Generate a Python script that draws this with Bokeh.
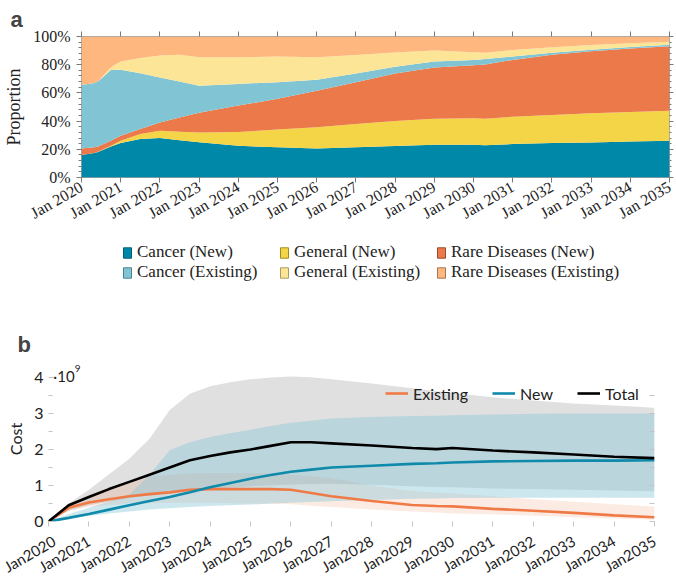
import math
from bokeh.plotting import figure
from bokeh.models import (Range1d, LinearAxis, SingleIntervalTicker, FixedTicker, Legend,
                          LegendItem, Label, PrintfTickFormatter, ColumnDataSource)
from bokeh.embed import file_html
from bokeh.resources import INLINE

# ---------------- panel a : proportions (%) ----------------
years_a = [2020.0, 2020.33, 2020.42, 2020.75, 2021.0, 2021.5, 2022.0, 2022.5, 2023.0, 2024.0,
           2025.0, 2026.0, 2027.0, 2028.0, 2029.0, 2030.0, 2030.3, 2031.0, 2032.0, 2033.0,
           2034.0, 2035.0]
cancer_new = [15.9, 17.3, 18.0, 22.0, 24.4, 27.3, 28.0, 26.5, 25.0, 22.5, 21.4, 20.6, 21.4, 22.4,
              23.2, 23.2, 22.9, 23.7, 24.4, 24.9, 25.6, 26.0]
general_new = [0.0, 0.1, 0.2, 0.6, 1.6, 3.5, 5.2, 6.0, 7.0, 9.7, 12.6, 15.0, 16.6, 17.6, 18.4,
               18.8, 18.7, 19.4, 19.9, 20.6, 20.8, 21.4]
rare_new = [4.7, 4.1, 3.8, 3.4, 3.6, 3.6, 5.8, 10.1, 14.0, 18.8, 21.8, 25.9, 29.6, 33.8, 36.4,
            37.6, 38.6, 40.3, 42.7, 44.1, 45.1, 45.6]
cancer_existing = [45.0, 45.5, 46.0, 50.3, 46.9, 39.6, 32.0, 25.4, 19.0, 15.4, 11.8, 7.8, 6.2,
                   4.8, 4.2, 3.8, 3.8, 2.4, 1.4, 1.0, 1.1, 1.1]
general_existing = [0.0, 0.0, 0.0, 1.9, 5.7, 10.8, 15.5, 19.0, 20.3, 18.9, 18.2, 16.0, 13.0, 10.0,
                    7.8, 5.5, 4.5, 4.7, 4.0, 3.4, 2.7, 2.1]
rare_existing = [34.4, 33.0, 32.0, 21.8, 17.8, 15.2, 13.5, 13.0, 14.7, 14.7, 14.2, 14.7, 13.2,
                 11.4, 10.0, 11.1, 11.5, 9.5, 7.6, 6.0, 4.7, 3.8]
series_a = ["Cancer (New)", "General (New)", "Rare Diseases (New)",
            "Cancer (Existing)", "General (Existing)", "Rare Diseases (Existing)"]
tick_years = [2020, 2021, 2022, 2023, 2024, 2025, 2026, 2027, 2028, 2029, 2030, 2031, 2032,
              2033, 2034, 2035]
tick_labels_a = ["Jan 2020", "Jan 2021", "Jan 2022", "Jan 2023", "Jan 2024", "Jan 2025",
                 "Jan 2026", "Jan 2027", "Jan 2028", "Jan 2029", "Jan 2030", "Jan 2031",
                 "Jan 2032", "Jan 2033", "Jan 2034", "Jan 2035"]
pct_ticks = [0, 20, 40, 60, 80, 100]

# ---------------- panel b : cost (x 1e9) ----------------
years_b = [2020.0, 2020.5, 2021.0, 2021.5, 2022.0, 2022.5, 2023.0, 2023.5, 2024.0, 2024.5, 2025.0,
           2025.5, 2026.0, 2026.5, 2027.0, 2028.0, 2029.0, 2029.6, 2030.0, 2031.0, 2032.0, 2033.0,
           2034.0, 2035.0]
total = [0, 0.45, 0.68, 0.90, 1.10, 1.30, 1.50, 1.70, 1.82, 1.92, 2.00, 2.10, 2.20, 2.20, 2.17,
         2.11, 2.04, 2.01, 2.04, 1.97, 1.92, 1.86, 1.80, 1.76]
new = [0, 0.10, 0.21, 0.33, 0.45, 0.57, 0.68, 0.81, 0.95, 1.07, 1.19, 1.29, 1.38, 1.44, 1.50,
       1.55, 1.60, 1.62, 1.64, 1.67, 1.68, 1.69, 1.69, 1.70]
existing = [0, 0.38, 0.53, 0.62, 0.70, 0.76, 0.81, 0.88, 0.90, 0.90, 0.90, 0.90, 0.88, 0.79, 0.70,
            0.57, 0.46, 0.43, 0.42, 0.35, 0.30, 0.24, 0.17, 0.12]
total_hi = [0, 0.50, 0.88, 1.31, 1.74, 2.30, 3.10, 3.55, 3.76, 3.87, 3.95, 4.00, 4.03, 4.01, 3.95,
            3.83, 3.70, 3.62, 3.57, 3.45, 3.36, 3.28, 3.22, 3.16]
total_lo = [0, 0.30, 0.45, 0.55, 0.65, 0.72, 0.80, 0.85, 0.90, 0.94, 0.98, 1.01, 1.03, 1.04, 1.05,
            1.02, 0.98, 0.96, 0.95, 0.92, 0.90, 0.88, 0.86, 0.84]
new_hi = [0, 0.20, 0.38, 0.55, 0.75, 1.30, 1.98, 2.20, 2.35, 2.45, 2.55, 2.65, 2.74, 2.80, 2.86,
          2.90, 2.93, 2.94, 2.95, 2.97, 2.99, 3.00, 3.00, 3.00]
new_lo = [0, 0.08, 0.15, 0.22, 0.28, 0.33, 0.37, 0.40, 0.43, 0.45, 0.47, 0.50, 0.52, 0.54, 0.56,
          0.60, 0.63, 0.64, 0.65, 0.66, 0.66, 0.66, 0.66, 0.66]
existing_hi = [0, 0.45, 0.75, 0.95, 1.12, 1.25, 1.30, 1.33, 1.35, 1.35, 1.35, 1.33, 1.30, 1.25,
               1.20, 1.00, 0.85, 0.80, 0.78, 0.70, 0.62, 0.55, 0.48, 0.42]
existing_lo = [0, 0.30, 0.40, 0.45, 0.50, 0.51, 0.52, 0.52, 0.52, 0.51, 0.50, 0.49, 0.48, 0.44,
               0.40, 0.33, 0.28, 0.25, 0.22, 0.20, 0.16, 0.12, 0.08, 0.05]
tick_labels_b = ["Jan2020", "Jan2021", "Jan2022", "Jan2023", "Jan2024", "Jan2025", "Jan2026",
                 "Jan2027", "Jan2028", "Jan2029", "Jan2030", "Jan2031", "Jan2032", "Jan2033",
                 "Jan2034", "Jan2035"]
cost_ticks = [0, 1, 2, 3, 4]
cost_minor = [0.5, 1.5, 2.5, 3.5]
cost_right_ticks = [0, 0.5, 1, 1.5, 2, 2.5, 3, 3.5]

SERIF = "Liberation Serif"
SANS = "Lato"

# ================= panel a =================
fill_cols = ["#0088a8", "#f4d548", "#ec7949", "#81c5d4", "#fde598", "#fdb77f"]
edge_cols = ["#045a70", "#a08a20", "#9a4a2a", "#4a8090", "#a89a60", "#a87450"]

pa = figure(width=676, height=231, x_range=Range1d(2020, 2035),
            y_range=Range1d(0, 100), output_backend="svg", toolbar_location=None,
            min_border_left=81, min_border_top=36, min_border_bottom=54, min_border_right=7)
pa.grid.visible = False
pa.outline_line_color = "#8a8a8a"
pa.outline_line_width = 0.8
pa.title.text = "a"
pa.title.align = "left"
pa.title.offset = -71
pa.title.standoff = 0
pa.title.text_font = "Liberation Sans"
pa.title.text_font_size = "22px"
pa.title.text_font_style = "bold"

src_a = ColumnDataSource(dict(x=years_a, s0=cancer_new, s1=general_new, s2=rare_new,
                              s3=cancer_existing, s4=general_existing, s5=rare_existing))
pa.varea_stack(stackers=["s0", "s1", "s2", "s3", "s4", "s5"], x="x", color=fill_cols,
               source=src_a)

TICK_A = "#7a7a7a"
xa = pa.xaxis[0]
xa.ticker = FixedTicker(ticks=tick_years)
xa.major_label_overrides = {y: l for y, l in zip(tick_years, tick_labels_a)}
xa.major_label_orientation = math.radians(30)
xa.major_label_text_font = SERIF
xa.major_label_text_font_size = "16px"
xa.major_label_text_color = "#222222"
xa.axis_line_color = None
xa.major_tick_in = 0
xa.major_tick_out = 5
xa.major_tick_line_color = TICK_A
xa.minor_tick_line_color = None
xa.major_label_standoff = 3

ya = pa.yaxis[0]
ya.ticker = SingleIntervalTicker(interval=20, num_minor_ticks=5)
ya.formatter = PrintfTickFormatter(format="%d%%")
ya.axis_label = "Proportion"
ya.axis_label_text_font = SERIF
ya.axis_label_text_font_size = "18px"
ya.axis_label_text_font_style = "normal"
ya.axis_label_text_color = "#222222"
ya.axis_label_standoff = 6
ya.major_label_text_font = SERIF
ya.major_label_text_font_size = "16px"
ya.major_label_text_color = "#222222"
ya.major_label_standoff = 6
ya.axis_line_color = None
ya.major_tick_in = 0
ya.major_tick_out = 5
ya.minor_tick_in = 0
ya.minor_tick_out = 3
ya.major_tick_line_color = TICK_A
ya.minor_tick_line_color = TICK_A

top_ax = LinearAxis(ticker=FixedTicker(ticks=tick_years),
                    major_label_overrides={y: "" for y in tick_years},
                    axis_line_color=None, major_tick_in=0, major_tick_out=5,
                    major_tick_line_color=TICK_A, minor_tick_line_color=None,
                    major_label_standoff=0, major_label_text_font_size="1px")
pa.add_layout(top_ax, "above")
right_ax = LinearAxis(ticker=SingleIntervalTicker(interval=20, num_minor_ticks=5),
                      major_label_overrides={v: "" for v in pct_ticks},
                      axis_line_color=None, major_label_text_font_size="1px",
                      major_tick_in=0, major_tick_out=4, minor_tick_in=0, minor_tick_out=2,
                      major_tick_line_color=TICK_A, minor_tick_line_color=TICK_A,
                      major_label_standoff=0)
pa.add_layout(right_ax, "right")

# ================= legend strip for panel a =================
pm = figure(width=676, height=91, x_range=Range1d(0, 676), y_range=Range1d(0, 91),
            x_axis_location=None, y_axis_location=None, min_border=0,
            output_backend="svg", toolbar_location=None)
pm.grid.visible = False
pm.outline_line_color = None
leg_items = []
for lab, fc, ec in zip(series_a, fill_cols, edge_cols):
    # legend proxy: a single NaN point, so nothing is drawn in the strip itself
    r = pm.rect(x=[float("nan")], y=[float("nan")], width=1, height=1, fill_color=fc,
                line_color=ec, line_width=1)
    leg_items.append(LegendItem(label=lab, renderers=[r]))
for k, ypos in enumerate([60, 40]):
    lg = Legend(items=leg_items[3 * k:3 * k + 3], orientation="horizontal",
                location=(122, ypos), glyph_width=10, glyph_height=13, label_width=142,
                label_height=20, label_standoff=5, spacing=0, padding=0, margin=0,
                label_text_font=SERIF, label_text_font_size="17px",
                label_text_color="#222222", border_line_color=None, background_fill_alpha=0)
    pm.add_layout(lg)

# ================= panel b =================
pb = figure(width=661, height=265, x_range=Range1d(2020, 2035),
            y_range=Range1d(0, 4.583), output_backend="svg", toolbar_location=None,
            min_border_left=48, min_border_top=34, min_border_bottom=66, min_border_right=7)
pb.grid.visible = False
pb.outline_line_color = None
pb.title.text = "b"
pb.title.align = "left"
pb.title.offset = -31
pb.title.standoff = 0
pb.title.text_font = "Liberation Sans"
pb.title.text_font_size = "22px"
pb.title.text_font_style = "bold"

src_b = ColumnDataSource(dict(x=years_b, total=total, new=new, existing=existing,
                              thi=total_hi, tlo=total_lo, nhi=new_hi, nlo=new_lo,
                              ehi=existing_hi, elo=existing_lo))
pb.varea(x="x", y1="tlo", y2="thi", source=src_b, fill_color="#e0e0e0", fill_alpha=1.0)
pb.varea(x="x", y1="elo", y2="ehi", source=src_b, fill_color="#ee7744", fill_alpha=0.15)
pb.varea(x="x", y1="nlo", y2="nhi", source=src_b, fill_color="#85c4d8", fill_alpha=0.41)
r_ex = pb.line(x="x", y="existing", source=src_b, line_color="#f07a45", line_width=2.6)
r_new = pb.line(x="x", y="new", source=src_b, line_color="#0f8aaa", line_width=2.6)
r_tot = pb.line(x="x", y="total", source=src_b, line_color="black", line_width=2.6)

TICK_B = "#c4c4c4"
xb = pb.xaxis[0]
xb.ticker = FixedTicker(ticks=tick_years)
xb.major_label_overrides = {y: l for y, l in zip(tick_years, tick_labels_b)}
xb.major_label_orientation = math.radians(30)
xb.major_label_text_font = SANS
xb.major_label_text_font_size = "15px"
xb.major_label_text_color = "#222222"
xb.axis_line_color = None
xb.major_tick_in = 0
xb.major_tick_out = 5
xb.major_tick_line_color = TICK_B
xb.minor_tick_line_color = None
xb.major_label_standoff = 13

yb = pb.yaxis[0]
yb.ticker = FixedTicker(ticks=cost_ticks, minor_ticks=cost_minor)
yb.axis_label = "Cost"
yb.axis_label_text_font = SANS
yb.axis_label_text_font_size = "16px"
yb.axis_label_text_font_style = "normal"
yb.axis_label_text_color = "#222222"
yb.axis_label_standoff = 6
yb.major_label_text_font = SANS
yb.major_label_text_font_size = "16px"
yb.major_label_text_color = "#222222"
yb.major_label_standoff = 5
yb.axis_line_color = None
yb.major_tick_in = 5
yb.major_tick_out = 0
yb.minor_tick_in = 4
yb.minor_tick_out = 0
yb.major_tick_line_color = TICK_B
yb.minor_tick_line_color = TICK_B

rb = LinearAxis(ticker=FixedTicker(ticks=cost_right_ticks),
                major_label_overrides={v: "" for v in cost_right_ticks},
                axis_line_color=None, major_label_text_font_size="1px",
                major_tick_in=5, major_tick_out=0, major_tick_line_color=TICK_B,
                minor_tick_line_color=None, major_label_standoff=0)
pb.add_layout(rb, "right")

leg_b = Legend(items=[LegendItem(label="Existing", renderers=[r_ex]),
                      LegendItem(label="New", renderers=[r_new]),
                      LegendItem(label="Total", renderers=[r_tot])],
               orientation="horizontal", location=(337, 118), glyph_width=23,
               glyph_height=20, label_standoff=5, spacing=24, padding=0, margin=0,
               label_text_font=SANS, label_text_font_size="16px", label_text_color="#222222",
               border_line_color=None, background_fill_alpha=0)
pb.add_layout(leg_b)

pb.add_layout(Label(x=2020.12, y=4.05, text="·10", text_font=SANS, text_font_size="15px",
                    text_color="#222222", text_baseline="alphabetic"))
pb.add_layout(Label(x=2020.65, y=4.24, text="9", text_font=SANS, text_font_size="10px",
                    text_color="#222222", text_baseline="alphabetic"))

open("out.html", "w").write(file_html([pa, pm, pb], INLINE))
